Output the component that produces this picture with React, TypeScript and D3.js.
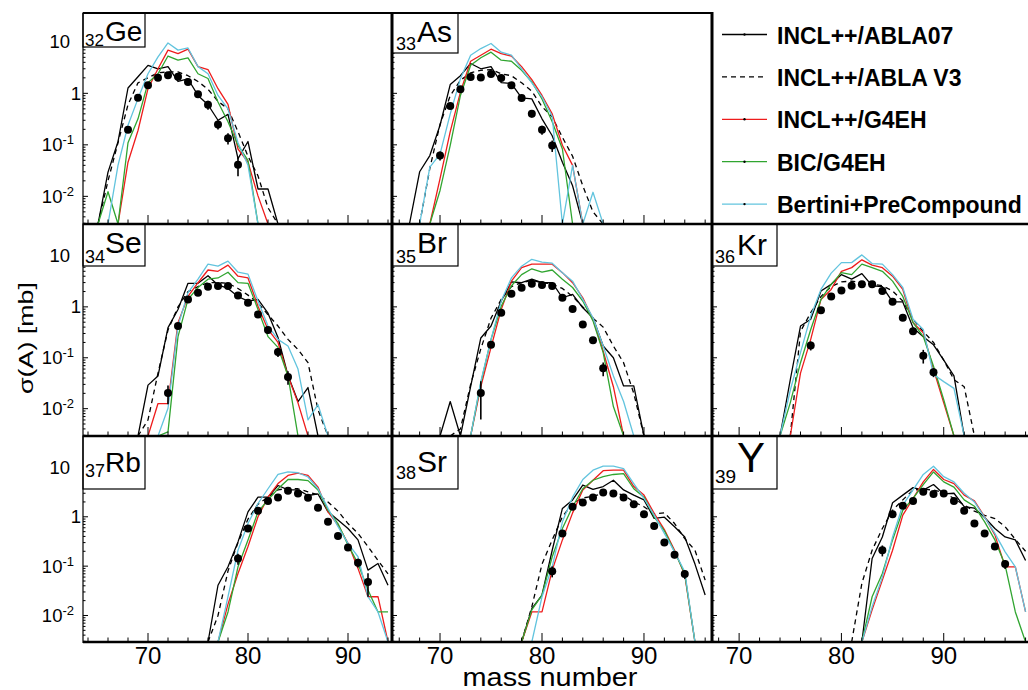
import React from "react";
import * as d3 from "d3";

const FONT = "'Liberation Sans', Arial, Helvetica, sans-serif";

// ---------------- data ----------------
const MODEL_NAMES = ["INCL++/ABLA07", "INCL++/ABLA V3", "INCL++/G4EH", "BIC/G4EH", "Bertini+PreCompound"];
const MODEL_COLORS = ["#000000", "#000000", "#ee1c1c", "#30a530", "#62c4de"];
const MODEL_DASHES = ["", "5,4", "", "", ""];

// 32Ge  (model mass numbers start at 64)
const GE_A0 = 64;
const GE_ABLA07 = [0, 0, 0.0295, 0.115, 1.27, 2.1, 3.5, 3.0, 3.3, 1.7, 1.9, 0.91, 0.6, 0.3, 0.39, 0.054, 0.116, 0.0139, 0.0139, 0, 0];
const GE_ABLAV3 = [0, 0, 0.02, 0.11, 0.6, 1.6, 2.0, 2.5, 2.6, 2.6, 2.2, 1.7, 1.2, 0.7, 0.5, 0.18, 0.06, 0.025, 0.006, 0, 0];
const GE_G4EH = [0, 0, 0, 0, 0.046, 0.19, 1.23, 3.0, 6.9, 5.9, 7.2, 3.3, 2.9, 1.23, 0.61, 0.083, 0.046, 0.0102, 0, 0, 0];
const GE_BIC = [0, 0, 0.0123, 0, 0.11, 0.32, 1.6, 2.4, 5.3, 4.4, 4.9, 2.4, 1.94, 0.68, 0.28, 0.098, 0.05, 0, 0, 0, 0];
const GE_BERT = [0, 0, 0, 0.04, 0.24, 0.79, 2.4, 5.1, 9.5, 6.9, 7.6, 3.3, 2.4, 0.91, 0.5, 0.11, 0.04, 0, 0, 0, 0];
const GE_DATA_A0 = 68;
const GE_DATA = [0.196, 0.82, 1.43, 2.0, 2.24, 2.1, 1.66, 0.96, 0.6, 0.249, 0.135, 0.041];
const GE_ERR = [0.12, 0.1, 0.08, 0.08, 0.08, 0.08, 0.1, 0.15, 0.2, 0.2, 0.25, 0.4];

// 33As (66..87)
const AS_A0 = 66;
const AS_ABLA07 = [0, 0, 0.03, 0.062, 0.24, 1.48, 2.2, 3.8, 3.0, 3.3, 1.62, 1.55, 0.82, 0.78, 0.32, 0.15, 0.046, 0.016, 0, 0, 0, 0];
const AS_ABLAV3 = [0, 0, 0, 0.035, 0.25, 0.9, 1.8, 2.5, 2.8, 2.9, 2.4, 2.2, 1.6, 1.1, 0.55, 0.35, 0.14, 0.06, 0.016, 0.005, 0, 0];
const AS_G4EH = [0, 0, 0, 0, 0.022, 0.18, 1.06, 4.2, 5.5, 7.2, 5.9, 5.3, 3.3, 1.84, 0.91, 0.4, 0.098, 0.04, 0, 0, 0, 0];
const AS_BIC = [0, 0, 0, 0, 0.013, 0.098, 0.91, 3.5, 4.9, 6.3, 4.4, 4.2, 2.8, 1.66, 0.78, 0.28, 0.083, 0, 0, 0, 0, 0];
const AS_BERT = [0, 0, 0, 0.037, 0.066, 0.4, 1.93, 5.5, 7.4, 9.3, 6.3, 5.5, 3.0, 1.59, 0.85, 0.36, 0, 0.04, 0, 0.012, 0, 0];
const AS_DATA_A0 = 70;
const AS_DATA = [0.062, 0.57, 1.2, 2.08, 2.02, 2.38, 1.99, 1.43, 0.81, 0.4, 0.196, 0.097];
const AS_ERR = [0.2, 0.1, 0.08, 0.08, 0.08, 0.08, 0.08, 0.1, 0.12, 0.15, 0.2, 0.25];

// 34Se (68..88)
const SE_A0 = 68;
const SE_ABLA07 = [0, 0, 0.029, 0.044, 0.39, 0.89, 2.9, 2.9, 4.1, 2.7, 2.3, 1.6, 1.3, 1.4, 0.75, 0.25, 0.045, 0.0138, 0.026, 0, 0];
const SE_ABLAV3 = [0, 0, 0.006, 0.05, 0.35, 1.0, 2.0, 2.5, 3.0, 3.0, 2.9, 2.3, 1.7, 1.2, 0.7, 0.42, 0.23, 0.145, 0.08, 0.0095, 0];
const SE_G4EH = [0, 0, 0, 0.0126, 0.0126, 0.49, 1.6, 2.98, 5.3, 5.0, 6.6, 4.0, 3.7, 1.03, 0.36, 0.2, 0.044, 0.013, 0, 0, 0];
const SE_BIC = [0, 0, 0, 0, 0.0035, 0.26, 1.4, 2.4, 3.5, 3.7, 4.8, 3.0, 2.9, 0.89, 0.26, 0.16, 0.044, 0, 0, 0, 0];
const SE_BERT = [0, 0, 0, 0, 0.0102, 0.42, 1.9, 3.5, 6.9, 6.3, 7.9, 4.8, 4.4, 1.3, 0.42, 0.23, 0.17, 0.06, 0.006, 0.012, 0];
const SE_DATA_A0 = 72;
const SE_DATA = [0.0204, 0.42, 1.4, 1.9, 2.49, 2.57, 2.57, 1.68, 1.2, 0.71, 0.35, 0.13, 0.042];
const SE_ERR = [0.4, 0.12, 0.1, 0.08, 0.08, 0.08, 0.08, 0.1, 0.12, 0.12, 0.15, 0.2, 0.3];

// 35Br (69..91)
const BR_A0 = 69;
const BR_ABLA07 = [0, 0, 0.0138, 0, 0.027, 0.245, 0.42, 1.3, 3.1, 2.98, 3.5, 2.98, 2.98, 1.51, 1.76, 0.96, 0.61, 0.17, 0.1, 0.028, 0.028, 0, 0];
const BR_ABLAV3 = [0, 0, 0, 0.004, 0.03, 0.15, 0.6, 1.4, 2.5, 3.0, 3.3, 3.0, 2.8, 2.3, 1.6, 1.0, 0.6, 0.4, 0.17, 0.08, 0.02, 0, 0];
const BR_G4EH = [0, 0, 0, 0, 0, 0.027, 0.16, 0.89, 3.2, 5.9, 6.9, 6.9, 6.9, 4.7, 2.98, 1.51, 0.57, 0.134, 0.027, 0, 0, 0, 0];
const BR_BIC = [0, 0, 0, 0, 0, 0.032, 0.23, 1.03, 2.6, 4.3, 5.6, 4.8, 5.3, 3.5, 2.4, 1.3, 0.53, 0.126, 0.011, 0, 0, 0, 0];
const BR_BERT = [0, 0, 0, 0, 0, 0.034, 0.23, 1.3, 3.7, 6.3, 8.6, 7.6, 7.2, 4.7, 3.2, 1.4, 0.61, 0.17, 0.044, 0.0138, 0, 0, 0];
const BR_DATA_A0 = 74;
const BR_DATA = [0.0204, 0.18, 0.77, 1.81, 2.38, 2.85, 2.69, 2.57, 1.51, 0.91, 0.45, 0.22, 0.062];
const BR_ERR = [0.7, 0.12, 0.1, 0.08, 0.08, 0.08, 0.08, 0.08, 0.1, 0.1, 0.12, 0.15, 0.3];

// 36Kr (72..94)
const KR_A0 = 72;
const KR_ABLA07 = [0, 0, 0, 0.037, 0.42, 0.57, 2.05, 2.77, 4.3, 3.5, 4.5, 2.6, 2.5, 1.25, 1.25, 0.39, 0.26, 0.18, 0.09, 0.044, 0, 0, 0];
const KR_ABLAV3 = [0, 0, 0, 0, 0.33, 0.77, 1.6, 2.5, 3.1, 3.2, 3.0, 2.8, 2.6, 2.05, 1.3, 0.57, 0.33, 0.2, 0.09, 0.037, 0.027, 0, 0];
const KR_G4EH = [0, 0, 0, 0, 0.05, 0.23, 1.4, 2.2, 5.0, 5.9, 8.4, 6.6, 5.9, 4.0, 2.2, 0.49, 0.31, 0.059, 0.013, 0, 0, 0, 0];
const KR_BIC = [0, 0, 0, 0.013, 0.08, 0.36, 1.4, 2.77, 4.7, 4.3, 6.9, 5.9, 5.0, 3.2, 1.6, 0.49, 0.26, 0.068, 0.015, 0, 0, 0, 0];
const KR_BERT = [0, 0, 0, 0.023, 0.126, 0.66, 2.2, 4.6, 7.4, 7.4, 10.5, 7.1, 6.9, 4.3, 2.4, 0.57, 0.36, 0.047, 0.034, 0.025, 0, 0, 0];
const KR_DATA_A0 = 77;
const KR_DATA = [0.174, 0.86, 1.6, 2.1, 2.6, 2.77, 2.77, 2.05, 1.26, 0.61, 0.33, 0.11, 0.052];
const KR_ERR = [0.2, 0.1, 0.08, 0.08, 0.08, 0.08, 0.08, 0.08, 0.1, 0.12, 0.15, 0.3, 0.2];

// 37Rb (75..94)
const RB_A0 = 75;
const RB_ABLA07 = [0, 0, 0.041, 0.097, 0.31, 1.26, 2.5, 2.5, 4.3, 3.5, 3.5, 2.7, 2.9, 1.26, 0.86, 0.58, 0.34, 0.083, 0.113, 0.041];
const RB_ABLAV3 = [0, 0, 0.01, 0.08, 0.3, 0.9, 1.8, 2.5, 3.5, 3.8, 3.7, 3.2, 2.8, 2.0, 1.3, 0.73, 0.46, 0.25, 0.13, 0.07];
const RB_G4EH = [0, 0, 0, 0.017, 0.071, 0.25, 1.0, 2.5, 4.7, 6.9, 7.7, 6.9, 4.0, 1.26, 0.68, 0.29, 0.09, 0.024, 0.024, 0];
const RB_BIC = [0, 0, 0, 0.0118, 0.097, 0.34, 1.26, 2.2, 3.7, 5.7, 5.7, 5.4, 3.5, 1.36, 0.73, 0.27, 0.113, 0.033, 0.0118, 0.0118];
const RB_BERT = [0, 0, 0, 0.024, 0.21, 0.73, 1.86, 3.7, 7.2, 8.1, 7.8, 6.4, 3.7, 1.48, 0.63, 0.29, 0.155, 0.024, 0.0118, 0];
const RB_DATA_A0 = 79;
const RB_DATA = [0.143, 0.58, 1.32, 2.1, 2.46, 3.37, 2.97, 2.43, 1.52, 0.79, 0.41, 0.24, 0.117, 0.048];
const RB_ERR = [0.25, 0.1, 0.08, 0.08, 0.08, 0.08, 0.08, 0.08, 0.1, 0.1, 0.12, 0.15, 0.2, 0.5];

// 38Sr (77..96)
const SR_A0 = 77;
const SR_ABLA07 = [0, 0, 0.0138, 0.026, 0.21, 1.48, 2.2, 4.4, 3.6, 4.1, 5.5, 3.5, 2.75, 2.2, 0.93, 0.98, 0.63, 0.39, 0.11, 0.026];
const SR_ABLAV3 = [0, 0, 0.015, 0.11, 0.34, 1.0, 1.86, 2.4, 2.6, 3.0, 3.1, 2.75, 2.0, 1.6, 1.15, 1.2, 0.73, 0.36, 0.21, 0.052];
const SR_G4EH = [0, 0, 0.0118, 0.0118, 0.083, 0.34, 1.2, 3.5, 5.5, 8.6, 8.8, 8.8, 4.1, 2.75, 1.17, 0.55, 0.21, 0.066, 0, 0];
const SR_BIC = [0, 0, 0.013, 0.026, 0.155, 0.58, 1.6, 3.7, 5.5, 6.5, 7.2, 7.5, 3.7, 2.5, 1.0, 0.52, 0.195, 0.07, 0, 0];
const SR_BERT = [0, 0, 0, 0.024, 0.097, 0.79, 2.5, 5.7, 8.8, 10.6, 10.6, 9.5, 4.7, 2.35, 1.08, 0.46, 0.195, 0.077, 0, 0];
const SR_DATA_A0 = 81;
const SR_DATA = [0.079, 0.46, 1.6, 1.95, 2.46, 3.1, 2.97, 2.46, 1.8, 1.13, 0.65, 0.3, 0.17, 0.069];
const SR_ERR = [0.25, 0.12, 0.08, 0.08, 0.08, 0.08, 0.08, 0.08, 0.08, 0.08, 0.1, 0.12, 0.15, 0.2];

// 39Y (80..98)
const Y_A0 = 80;
const Y_ABLA07 = [0, 0, 0, 0.143, 0.39, 1.92, 2.75, 3.9, 3.47, 4.5, 2.9, 3.0, 1.6, 1.5, 0.97, 0.58, 0.39, 0.34, 0.13];
const Y_ABLAV3 = [0, 0, 0.045, 0.21, 0.58, 1.36, 2.2, 3.5, 3.6, 3.5, 3.1, 2.35, 1.72, 1.3, 1.07, 0.92, 0.63, 0.35, 0.2];
const Y_G4EH = [0, 0, 0, 0.013, 0.052, 0.21, 1.08, 2.35, 5.1, 9.1, 5.7, 4.7, 2.75, 2.1, 1.0, 0.43, 0.097, 0.097, 0.0118];
const Y_BIC = [0, 0, 0, 0.024, 0.071, 0.34, 1.36, 2.35, 4.5, 8.1, 5.1, 4.0, 2.2, 1.64, 0.79, 0.34, 0.105, 0.0118, 0];
const Y_BERT = [0, 0, 0, 0.015, 0.06, 0.39, 1.72, 3.5, 7.2, 10.6, 6.5, 5.1, 3.0, 2.0, 0.97, 0.46, 0.195, 0.097, 0.0118];
const Y_DATA_A0 = 84;
const Y_DATA = [0.21, 1.13, 1.67, 2.08, 3.2, 2.88, 2.97, 2.1, 1.32, 0.73, 0.46, 0.25, 0.11];
const Y_ERR = [0.25, 0.1, 0.08, 0.08, 0.08, 0.08, 0.08, 0.08, 0.08, 0.1, 0.1, 0.15, 0.2];

const X_TICK_LABELS = [70, 80, 90];
const Y_TICK_LABELS = [
  { v: 10, base: "10", exp: "" },
  { v: 1, base: "1", exp: "" },
  { v: 0.1, base: "10", exp: "-1" },
  { v: 0.01, base: "10", exp: "-2" },
];

// ---------------- layout ----------------
const COLS = [
  { x0: 83, x1: 392, d0: 63.5, d1: 94.4 },
  { x0: 392, x1: 712, d0: 65.29, d1: 96.67 },
  { x0: 712, x1: 1031, d0: 67.35, d1: 98.53 },
];
const ROWS = [
  { y0: 13, y1: 224, topLog: 1.56 },
  { y0: 224, y1: 436, topLog: 1.628 },
  { y0: 436, y1: 642, topLog: 1.637 },
];
const BOTTOM_LOG = -2.537;

const PANELS = [
  { z: "32", sym: "Ge", col: 0, row: 0, a0: GE_A0, models: [GE_ABLA07, GE_ABLAV3, GE_G4EH, GE_BIC, GE_BERT], d0: GE_DATA_A0, data: GE_DATA, err: GE_ERR,
    box: { w: 62, h: 34, subDx: 2, subBase: 33, subSize: 17, symDx: 22, symBase: 28, symSize: 28 } },
  { z: "33", sym: "As", col: 1, row: 0, a0: AS_A0, models: [AS_ABLA07, AS_ABLAV3, AS_G4EH, AS_BIC, AS_BERT], d0: AS_DATA_A0, data: AS_DATA, err: AS_ERR,
    box: { w: 66, h: 40, subDx: 4, subBase: 37, subSize: 18, symDx: 25, symBase: 29, symSize: 30 } },
  { z: "34", sym: "Se", col: 0, row: 1, a0: SE_A0, models: [SE_ABLA07, SE_ABLAV3, SE_G4EH, SE_BIC, SE_BERT], d0: SE_DATA_A0, data: SE_DATA, err: SE_ERR,
    box: { w: 62, h: 42, subDx: 2, subBase: 39, subSize: 18, symDx: 22, symBase: 29, symSize: 30 } },
  { z: "35", sym: "Br", col: 1, row: 1, a0: BR_A0, models: [BR_ABLA07, BR_ABLAV3, BR_G4EH, BR_BIC, BR_BERT], d0: BR_DATA_A0, data: BR_DATA, err: BR_ERR,
    box: { w: 66, h: 42, subDx: 4, subBase: 39, subSize: 18, symDx: 25, symBase: 29, symSize: 30 } },
  { z: "36", sym: "Kr", col: 2, row: 1, a0: KR_A0, models: [KR_ABLA07, KR_ABLAV3, KR_G4EH, KR_BIC, KR_BERT], d0: KR_DATA_A0, data: KR_DATA, err: KR_ERR,
    box: { w: 65, h: 42, subDx: 3, subBase: 39, subSize: 18, symDx: 25, symBase: 31, symSize: 30 } },
  { z: "37", sym: "Rb", col: 0, row: 2, a0: RB_A0, models: [RB_ABLA07, RB_ABLAV3, RB_G4EH, RB_BIC, RB_BERT], d0: RB_DATA_A0, data: RB_DATA, err: RB_ERR,
    box: { w: 62, h: 53, subDx: 2, subBase: 41, subSize: 18, symDx: 22, symBase: 36, symSize: 28 } },
  { z: "38", sym: "Sr", col: 1, row: 2, a0: SR_A0, models: [SR_ABLA07, SR_ABLAV3, SR_G4EH, SR_BIC, SR_BERT], d0: SR_DATA_A0, data: SR_DATA, err: SR_ERR,
    box: { w: 66, h: 53, subDx: 4, subBase: 43, subSize: 18, symDx: 25, symBase: 36, symSize: 30 } },
  { z: "39", sym: "Y", col: 2, row: 2, a0: Y_A0, models: [Y_ABLA07, Y_ABLAV3, Y_G4EH, Y_BIC, Y_BERT], d0: Y_DATA_A0, data: Y_DATA, err: Y_ERR,
    box: { w: 65, h: 53, subDx: 3, subBase: 47, subSize: 19, symDx: 25, symBase: 36, symSize: 42 } },
];

function Panel({ p, idx }: { p: any; idx: number }) {
  const col = COLS[p.col];
  const row = ROWS[p.row];
  const x = d3.scaleLinear().domain([col.d0, col.d1]).range([col.x0, col.x1]);
  const yMin = Math.pow(10, BOTTOM_LOG);
  const y = d3.scaleLog().domain([yMin, Math.pow(10, row.topLog)]).range([row.y1, row.y0]);
  const yv = (v: number) => y(Math.max(v, yMin));
  const line = d3.line<[number, number]>().x((d) => x(d[0])).y((d) => yv(d[1]));

  const paths = p.models.map((vals: number[]) => {
    const first = vals.findIndex((v) => v > 0);
    let last = -1;
    vals.forEach((v, i) => { if (v > 0) last = i; });
    const s = Math.max(0, first - 1);
    const e = Math.min(vals.length - 1, last + 1);
    const pts: [number, number][] = [];
    for (let i = s; i <= e; i++) pts.push([p.a0 + i, vals[i]]);
    return line(pts);
  });

  const xMajor = d3.range(Math.ceil(col.d0 / 10) * 10, col.d1, 10);
  const xMinor = d3.range(Math.ceil(col.d0 / 2) * 2, col.d1, 2).filter((v) => v % 10 !== 0);
  const yMajor: number[] = [];
  const yMinor: number[] = [];
  for (let k = -3; k <= 1; k++) {
    for (let m = 1; m <= 9; m++) {
      const v = m * Math.pow(10, k);
      if (v < yMin || v > Math.pow(10, row.topLog)) continue;
      if (m === 1) yMajor.push(v); else yMinor.push(v);
    }
  }
  const clipId = `clip${idx}`;
  const b = p.box;
  return (
    <g>
      <defs>
        <clipPath id={clipId}>
          <rect x={col.x0} y={row.y0} width={col.x1 - col.x0} height={row.y1 - row.y0} />
        </clipPath>
      </defs>
      <g clipPath={`url(#${clipId})`}>
        {paths.map((d: string, i: number) => (
          <path key={i} d={d || ""} fill="none" stroke={MODEL_COLORS[i]} strokeWidth={1.3}
            strokeDasharray={MODEL_DASHES[i] || undefined} strokeLinejoin="round" />
        ))}
        {p.data.map((v: number, i: number) => {
          const A = p.d0 + i;
          const e = p.err[i];
          return (
            <g key={i}>
              <line x1={x(A)} x2={x(A)} y1={yv(v * (1 - e))} y2={yv(v * (1 + e))} stroke="#000" strokeWidth={1.6} />
              <circle cx={x(A)} cy={yv(v)} r={4} fill="#000" />
            </g>
          );
        })}
      </g>
      {xMajor.map((t) => (
        <line key={"xM" + t} x1={x(t)} x2={x(t)} y1={row.y1} y2={row.y1 - 9} stroke="#000" strokeWidth={1} />
      ))}
      {xMinor.map((t) => (
        <line key={"xm" + t} x1={x(t)} x2={x(t)} y1={row.y1} y2={row.y1 - 4.5} stroke="#000" strokeWidth={1} />
      ))}
      {yMajor.map((t) => (
        <line key={"yM" + t} x1={col.x0} x2={col.x0 + 5} y1={y(t)} y2={y(t)} stroke="#000" strokeWidth={1} />
      ))}
      {yMinor.map((t) => (
        <line key={"ym" + t} x1={col.x0} x2={col.x0 + 2.5} y1={y(t)} y2={y(t)} stroke="#000" strokeWidth={1} />
      ))}
      {p.col === 0 && Y_TICK_LABELS.map((t) => (
        <text key={"yl" + t.v} x={t.exp ? 74 : t.base === "1" ? 81 : 70} y={y(t.v) + 6.5} fontSize={18.5} textAnchor="end" fill="#000">
          <tspan>{t.base}</tspan>
          {t.exp && <tspan dy={-7} fontSize={13}>{t.exp}</tspan>}
        </text>
      ))}
      {p.row === 2 && X_TICK_LABELS.map((t) => (
        <text key={"xl" + t} x={x(t)} y={664} fontSize={24} textAnchor="middle" fill="#000">{t}</text>
      ))}
      <rect x={col.x0} y={row.y0} width={b.w} height={b.h} fill="#fff" stroke="#000" strokeWidth={1.2} />
      <text x={col.x0 + b.subDx} y={row.y0 + b.subBase} fontSize={b.subSize} fill="#000">{p.z}</text>
      <text x={col.x0 + b.symDx} y={row.y0 + b.symBase} fontSize={b.symSize} fill="#000">{p.sym}</text>
    </g>
  );
}

export default function App() {
  const legX1 = 722, legX2 = 767, legTextX = 777, legY0 = 34.5, legStep = 42.4;
  return (
    <svg width={1028} height={690} style={{ position: "absolute", left: 0, top: 0, background: "#fff" }} fontFamily={FONT}>
      <rect x={0} y={0} width={1028} height={690} fill="#fff" />
      {PANELS.map((p, i) => <Panel key={i} p={p} idx={i} />)}
      {/* frames */}
      <line x1={83} x2={712} y1={13} y2={13} stroke="#000" strokeWidth={2} />
      <line x1={83} x2={1031} y1={224} y2={224} stroke="#000" strokeWidth={2.5} />
      <line x1={83} x2={1031} y1={436} y2={436} stroke="#000" strokeWidth={2.5} />
      <line x1={83} x2={1031} y1={642} y2={642} stroke="#000" strokeWidth={2.5} />
      <line x1={83} x2={83} y1={13} y2={643} stroke="#000" strokeWidth={1.2} />
      <line x1={392} x2={392} y1={12} y2={643} stroke="#000" strokeWidth={3} />
      <line x1={712} x2={712} y1={12} y2={643} stroke="#000" strokeWidth={3} />
      {/* legend */}
      {MODEL_NAMES.map((name, i) => {
        const ly = legY0 + i * legStep;
        return (
          <g key={name}>
            <line x1={legX1} x2={legX2} y1={ly} y2={ly} stroke={MODEL_COLORS[i]} strokeWidth={1.3}
              strokeDasharray={MODEL_DASHES[i] || undefined} />
            {!MODEL_DASHES[i] && <circle cx={(legX1 + legX2) / 2} cy={ly} r={1.2} fill="#000" />}
            <text x={legTextX} y={ly + 9} fontSize={23} fontWeight="bold" fill="#000">{name}</text>
          </g>
        );
      })}
      {/* axis titles */}
      <text transform="translate(33,338) rotate(-90)" fontSize={21} textAnchor="middle" fill="#000"
        textLength={112} lengthAdjust="spacingAndGlyphs">σ(A) [mb]</text>
      <text x={550} y={686} fontSize={25} textAnchor="middle" fill="#000"
        textLength={175} lengthAdjust="spacingAndGlyphs">mass number</text>
    </svg>
  );
}
